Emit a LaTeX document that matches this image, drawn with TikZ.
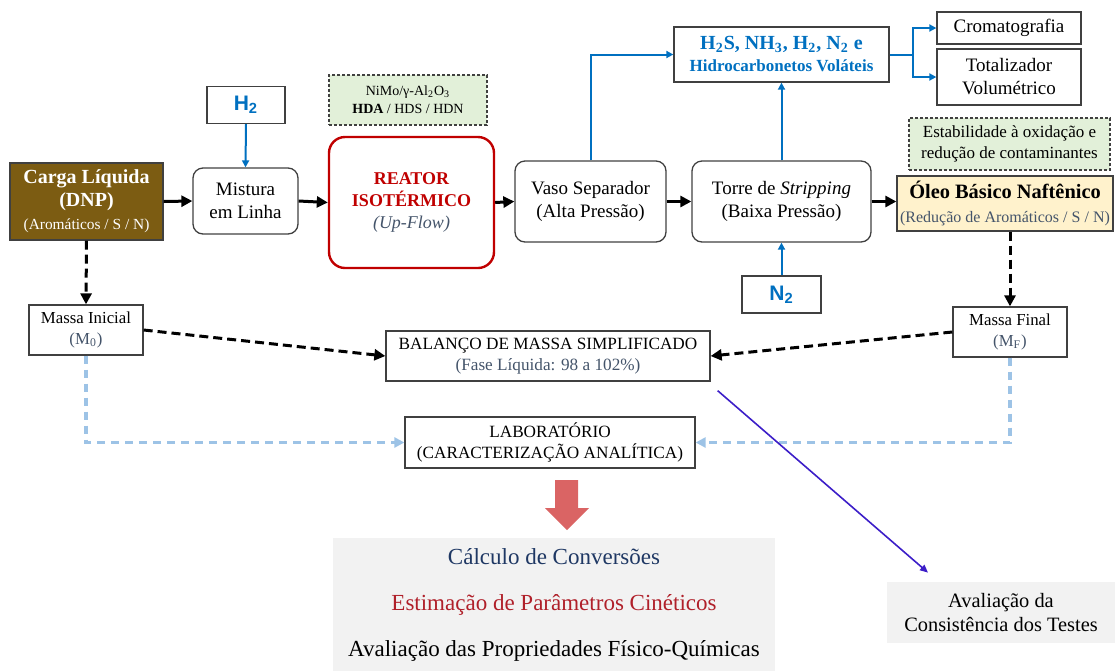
\documentclass[tikz,border=0pt]{standalone}
\usepackage{fontspec}
\setmainfont{Liberation Serif}
\newfontfamily\arialfont{Liberation Sans}
\usetikzlibrary{arrows.meta}

\definecolor{boxline}{RGB}{64,64,64}
\definecolor{cargabrown}{RGB}{124,92,18}
\definecolor{gasblue}{RGB}{0,112,192}
\definecolor{subgray}{RGB}{68,84,106}
\definecolor{reatorred}{RGB}{192,0,0}
\definecolor{notegreen}{RGB}{226,240,217}
\definecolor{oleoyellow}{RGB}{255,242,204}
\definecolor{labblue}{RGB}{157,195,230}
\definecolor{resgray}{RGB}{242,242,242}
\definecolor{bigarrow}{RGB}{218,100,100}
\definecolor{navy}{RGB}{31,56,100}
\definecolor{darkred}{RGB}{176,32,42}
\definecolor{checkviolet}{RGB}{60,30,200}

\tikzset{
  box/.style={draw=boxline, line width=0.65pt, align=center, inner sep=0pt},
  wh/.style 2 args={minimum width=#1*0.5pt, minimum height=#2*0.5pt},
  roundbox/.style={box, rounded corners=5pt},
  note/.style={box, fill=notegreen, dash pattern=on 1.5pt off 1pt, line width=0.6pt},
  txt/.style={font=\fontsize{9.5}{11.5}\selectfont},
  small/.style={font=\fontsize{8.6}{10.5}\selectfont},
  flow/.style={-{Triangle[length=5.5pt,width=5.5pt]}, line width=1.5pt},
  gas/.style={-{Triangle[length=3.5pt,width=3.5pt]}, draw=gasblue, line width=1pt},
  mass/.style={flow, dash pattern=on 4.5pt off 2.5pt},
  lab/.style={-{Triangle[length=5pt,width=5pt]}, draw=labblue, line width=1.9pt,
    dash pattern=on 4pt off 3pt}
}

\begin{document}
\begin{tikzpicture}[x=0.5pt,y=-0.5pt]
  \useasboundingbox (0,0) rectangle (1115,671);

  % main line
  \node[box, fill=cargabrown, text=white, wh={153}{77},
    font=\bfseries\fontsize{10}{11.5}\selectfont] (carga) at (86.5,201.5)
    {Carga Líquida\\(DNP)\\{\mdseries\fontsize{7.7}{9}\selectfont(Aromáticos / S / N)}};
  \node[roundbox, txt, wh={105}{66}] (mix) at (245.5,201) {Mistura\\em Linha};
  \node[box, wh={78}{37}, text=gasblue, font=\arialfont\bfseries\fontsize{10.5}{12}\selectfont]
    (h2) at (246,105) {H\textsubscript{2}};
  \node[note, wh={158}{50}, font=\fontsize{7}{9}\selectfont] (nimo) at (408,100)
    {NiMo/γ-Al\textsubscript{2}O\textsubscript{3}\\\textbf{HDA} / HDS / HDN};
  \node[box, draw=reatorred, line width=1.2pt, rounded corners=8pt, wh={165}{131},
    text=reatorred, font=\bfseries\fontsize{9}{11}\selectfont] (reator) at (411.5,202.5)
    {REATOR\\ISOTÉRMICO\\{\mdseries\itshape\color{subgray}(Up-Flow)}};
  \node[roundbox, txt, wh={151}{81}] (vaso) at (590.5,201.5) {Vaso Separador\\(Alta Pressão)};
  \node[roundbox, txt, wh={179}{81}] (torre) at (781.5,201.5)
    {Torre de \textit{Stripping}\\(Baixa Pressão)};
  \node[box, wh={79}{37}, text=gasblue, font=\arialfont\bfseries\fontsize{10.5}{12}\selectfont]
    (n2) at (781.5,294.5) {N\textsubscript{2}};

  % gas side
  \node[box, wh={215}{55}, text=gasblue, font=\bfseries\fontsize{8.5}{11}\selectfont]
    (gases) at (781.5,54.5)
    {{\fontsize{10}{12}\selectfont H\textsubscript{2}S, NH\textsubscript{3}, H\textsubscript{2}, N\textsubscript{2} e}\\Hidrocarbonetos Voláteis};
  \node[box, txt, wh={144}{32}] (croma) at (1009,28) {Cromatografia};
  \node[box, txt, wh={144}{56}] (total) at (1009,77) {Totalizador\\Volumétrico};

  % product
  \node[note, wh={201}{52}, font=\fontsize{8.5}{10.5}\selectfont] (estab) at (1009.5,144)
    {Estabilidade à oxidação e\\redução de contaminantes};
  \node[box, fill=oleoyellow, wh={216}{55}, font=\bfseries\fontsize{10.2}{12}\selectfont]
    (oleo) at (1005,203.5)
    {Óleo Básico Naftênico\\{\mdseries\fontsize{8}{9.5}\selectfont\color{subgray}(Redução de Aromáticos / S / N)}};

  % mass balance
  \node[box, wh={114}{50}, font=\fontsize{8.4}{10.5}\selectfont] (minic) at (86,330)
    {Massa Inicial\\{\color{subgray}(M\textsubscript{0})}};
  \node[box, wh={114}{50}, font=\fontsize{8.4}{10.5}\selectfont] (mfin) at (1010,332)
    {Massa Final\\{\color{subgray}(M\textsubscript{F})}};
  \node[box, wh={324}{50}, small] (balanco) at (548,356)
    {BALANÇO DE MASSA SIMPLIFICADO\\{\color{subgray}(Fase Líquida: 98 a 102\%)}};
  \node[box, wh={290}{51}, small] (lab) at (550,442.5)
    {LABORATÓRIO\\(CARACTERIZAÇÃO ANALÍTICA)};

  % results
  \fill[bigarrow] (555,480) -- (578,480) -- (578,508) -- (589,508) -- (567,530)
    -- (545,508) -- (555,508) -- cycle;
  \node[fill=resgray, inner sep=0pt, wh={442}{133}, align=center,
    font=\fontsize{11.5}{23}\selectfont] (result) at (554,604.5)
    {{\color{navy}Cálculo de Conversões}\\{\color{darkred}Estimação de Parâmetros Cinéticos}\\Avaliação das Propriedades Físico-Químicas};
  \node[fill=resgray, inner sep=0pt, wh={228}{61}, align=center,
    font=\fontsize{10.2}{12}\selectfont] (aval) at (1001,612.5)
    {Avaliação da\\Consistência dos Testes};

  \begin{scope}[flow]
    \draw (carga.east) -- (mix.west);
    \draw (mix.east) -- (reator.west);
    \draw (reator.east) -- (vaso.west);
    \draw (vaso.east) -- (torre.west);
    \draw (torre.east) -- (torre.east -| oleo.west);
  \end{scope}
  \begin{scope}[gas]
    \draw (h2.south) -- (mix.north);
    \draw (vaso.north) |- (gases.west);
    \draw (torre.north) -- (gases.south);
    \draw (n2.north) -- (torre.south);
    \draw[-] (gases.east) -- ++(23,0) coordinate (split);
    \draw (split) |- (croma.west);
    \draw (split) |- (total.west);
  \end{scope}
  \begin{scope}[mass]
    \draw (carga.south) -- (minic.north);
    \draw (mfin.north |- oleo.south) -- (mfin.north);
    \draw (minic.east) -- (balanco.west);
    \draw (mfin.west) -- (balanco.east);
  \end{scope}
  \begin{scope}[lab]
    \draw (minic.south) |- (lab.west);
    \draw (mfin.south) |- (lab.east);
  \end{scope}
  \coordinate (v0) at ([shift={(7,9)}]balanco.south east);
  \coordinate (v1) at ([shift={(-73,-9)}]aval.north);
  \draw[-{Triangle[length=4pt,width=3.5pt]}, draw=checkviolet, fill=checkviolet, line width=0.8pt] (v0) -- (v1);
\end{tikzpicture}
\end{document}
